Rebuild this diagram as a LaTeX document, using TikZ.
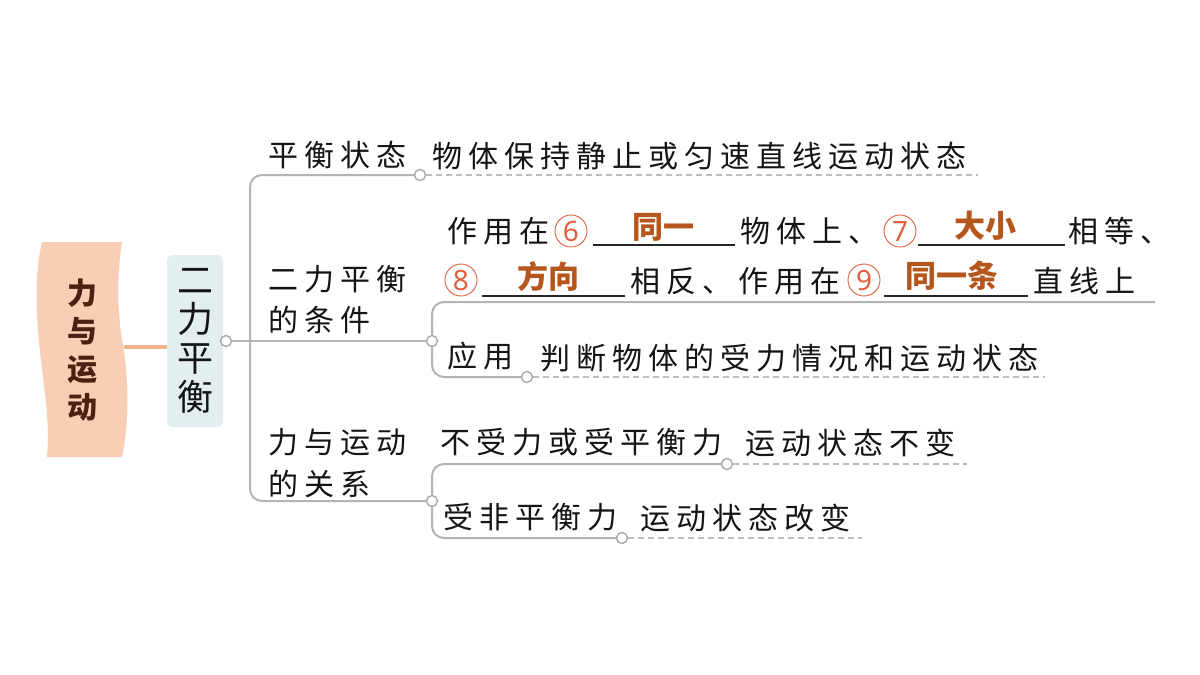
\documentclass[tikz,border=0pt]{standalone}
\usepackage{fontspec}
\newfontfamily\cjk[LetterSpace=20]{Noto Sans CJK SC}
\newfontfamily\cjkn{Noto Sans CJK SC}
\newfontfamily\digitf{Noto Sans}
\definecolor{linec}{HTML}{B4B4B4}
\definecolor{dashc}{HTML}{BDBDBD}
\definecolor{knobc}{HTML}{A8A8A8}
\definecolor{ansc}{HTML}{B5561C}
\definecolor{numc}{HTML}{E2603C}
\definecolor{rootc}{HTML}{4A2212}
\definecolor{bannerc}{HTML}{F8CFB4}
\definecolor{orangec}{HTML}{F0B488}
\definecolor{boxc}{HTML}{E2EEF0}
\definecolor{txtc}{HTML}{151515}
\tikzset{
  lbl/.style={font=\cjk\fontsize{30}{34}\selectfont, inner sep=0, anchor=west, text=txtc},
  ans/.style={font=\cjkn\bfseries\fontsize{31}{34}\selectfont, text=ansc, inner sep=0},
  num/.style={circle, draw=numc, line width=0.9, minimum size=32, inner sep=0, text=numc, font=\digitf\fontsize{28}{30}\selectfont},
  branch/.style={draw=linec, line width=2, rounded corners=12},
  dashline/.style={draw=dashc, line width=1.6, dash pattern=on 6 off 4},
  knob/.style={circle, draw=knobc, fill=white, line width=1.4, minimum size=11, inner sep=0},
  uline/.style={draw=black!85, line width=1.5}
}
\begin{document}
\begin{tikzpicture}[x=1pt,y=-1pt]
\useasboundingbox[fill=white] (0,0) rectangle (1200,675);
% banner
\fill[bannerc] (42,242) -- (122,242)
  .. controls (116,280) and (118,320) .. (123,345)
  .. controls (128,375) and (130,420) .. (122,457)
  -- (47,457)
  .. controls (50,425) and (45,395) .. (42,368)
  .. controls (38,335) and (32,285) .. (42,242) -- cycle;
\node[font=\cjkn\bfseries\fontsize{30}{38}\selectfont, align=center, text=rootc, inner sep=0] (root) at (82,350) {力\\与\\运\\动};
\coordinate (bannerR) at (124,347);
% sub box
\node[fill=boxc, rounded corners=6, minimum width=56, minimum height=172, inner sep=0,
      font=\cjkn\fontsize{36}{39}\selectfont, align=center, text=txtc] (sub) at (195,341) {二\\力\\平\\衡};
\draw[orangec, line width=3.5] (bannerR) -- (sub.west |- bannerR);
% knobs
\node[knob] (c0) at (226,341) {};
\node[knob] (c1) at (420,175) {};
\node[knob] (c2) at (432,341) {};
\node[knob] (c3) at (432,501) {};
\node[knob] (c4) at (527,377) {};
\node[knob] (c5) at (727,464) {};
\node[knob] (c6) at (622,538) {};
\coordinate (j0) at (250,341);
\coordinate (e2) at (1155,302);
% main branches
\draw[branch] (c0.east) -- (c2.west);
\draw[branch] (j0) |- (c1.west);
\draw[branch] (j0) |- (c3.west);
\draw[branch] (c2.north) |- (e2);
\draw[branch] (c2.south) |- (c4.west);
\draw[branch] (c3.north) |- (c5.west);
\draw[branch] (c3.south) |- (c6.west);
% dashed ends
\coordinate (d1) at (978,175);
\coordinate (d4) at (1045,377);
\coordinate (d5) at (967,464);
\coordinate (d6) at (862,538);
\draw[dashline] (c1.east) -- (d1);
\draw[dashline] (c4.east) -- (d4);
\draw[dashline] (c5.east) -- (d5);
\draw[dashline] (c6.east) -- (d6);
% labels
\node[lbl] (t1) at (268,155) {平衡状态};
\node[lbl] (t1b) at (432,156) {物体保持静止或匀速直线运动状态};
\node[lbl] (t2a) at (268,279) {二力平衡};
\node[lbl] (t2b) at (268,320) {的条件};
\node[lbl] (t3a) at (268,442) {力与运动};
\node[lbl] (t3b) at (268,484) {的关系};
\node[lbl] (t4) at (447,356) {应用};
\node[lbl] (t4b) at (540,358) {判断物体的受力情况和运动状态};
\node[lbl] (t5) at (440,442) {不受力或受平衡力};
\node[lbl] (t5b) at (745,443) {运动状态不变};
\node[lbl] (t6) at (443,517) {受非平衡力};
\node[lbl] (t6b) at (640,518) {运动状态改变};
% fill-in line 1
\node[lbl] (f1) at (447,231) {作用在};
\node[num] (n6) at (571,231) {6};
\coordinate (u6a) at (593,245); \coordinate (u6b) at (735,245);
\draw[uline] (u6a) -- (u6b);
\node[ans] (a6) at (663,227) {同一};
\node[lbl] (f2) at (740,231) {物体上、};
\node[num] (n7) at (900,231) {7};
\coordinate (u7a) at (918,245); \coordinate (u7b) at (1065,245);
\draw[uline] (u7a) -- (u7b);
\node[ans] (a7) at (985,226) {大小};
\node[lbl] (f3) at (1068,231) {相等、};
% fill-in line 2
\node[num] (n8) at (461,280) {8};
\coordinate (u8a) at (482,296); \coordinate (u8b) at (625,296);
\draw[uline] (u8a) -- (u8b);
\node[ans] (a8) at (548,277) {方向};
\node[lbl] (f4) at (630,281) {相反、作用在};
\node[num] (n9) at (864,280) {9};
\coordinate (u9a) at (884,296); \coordinate (u9b) at (1028,296);
\draw[uline] (u9a) -- (u9b);
\node[ans] (a9) at (952,276) {同一条};
\node[lbl] (f5) at (1033,281) {直线上};
\end{tikzpicture}
\end{document}
